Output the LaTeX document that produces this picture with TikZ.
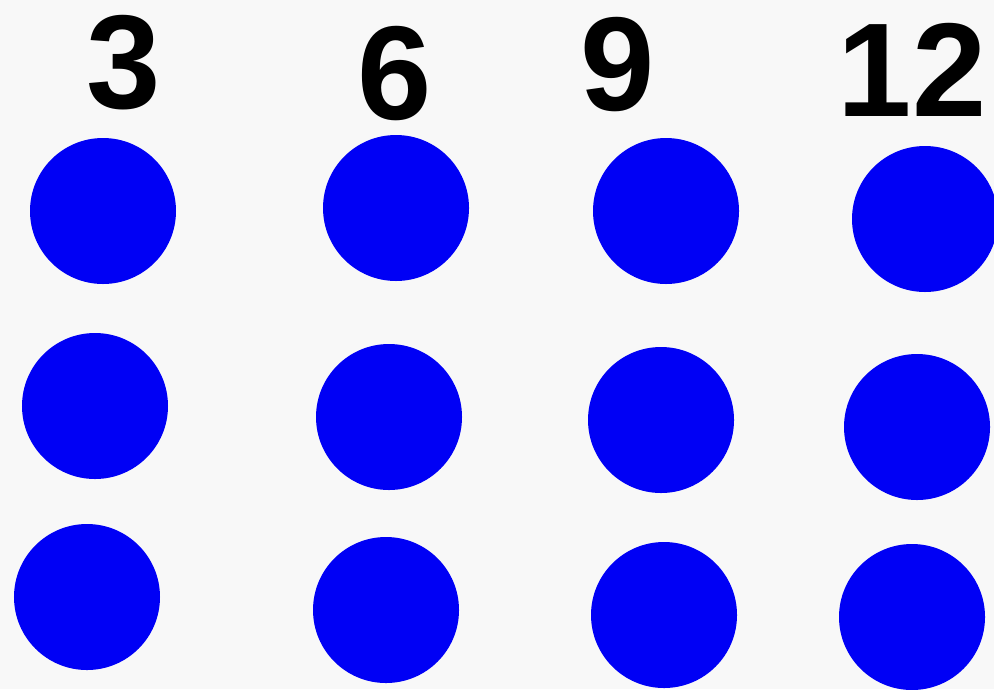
\documentclass[tikz,border=0pt]{standalone}
\usepackage{fontspec}
\setmainfont{Liberation Sans}
\definecolor{dotblue}{RGB}{0, 0, 245}
\definecolor{paper}{RGB}{248, 248, 248}
\usetikzlibrary{positioning}

\begin{document}
\begin{tikzpicture}[
    dot/.style={circle, fill=dotblue, minimum size=1.46cm, inner sep=0pt},
    num/.style={font=\fontsize{38}{44}\selectfont\bfseries, inner sep=0pt},
]
\fill[paper] (0,0) rectangle (9.94,6.89);
\useasboundingbox (0,0) rectangle (9.94,6.89);
% column labels
\node[num] (l3) at (1.24, 6.265) {3};
\node[num] (l6) at (3.95, 6.155) {6};
\node[num] (l9) at (6.175, 6.24) {9};
\node[num] (l12) at (9.12, 6.19) {12};
% top row
\node[dot] (a1) at (1.03, 4.78) {};
\node[dot] (a2) at (3.96, 4.81) {};
\node[dot] (a3) at (6.66, 4.78) {};
\node[dot] (a4) at (9.25, 4.70) {};
% middle row
\node[dot] (b1) at (0.95, 2.83) {};
\node[dot] (b2) at (3.89, 2.72) {};
\node[dot] (b3) at (6.61, 2.69) {};
\node[dot] (b4) at (9.17, 2.62) {};
% bottom row
\node[dot] (c1) at (0.87, 0.92) {};
\node[dot] (c2) at (3.86, 0.79) {};
\node[dot] (c3) at (6.64, 0.74) {};
\node[dot] (c4) at (9.12, 0.72) {};
\end{tikzpicture}
\end{document}
